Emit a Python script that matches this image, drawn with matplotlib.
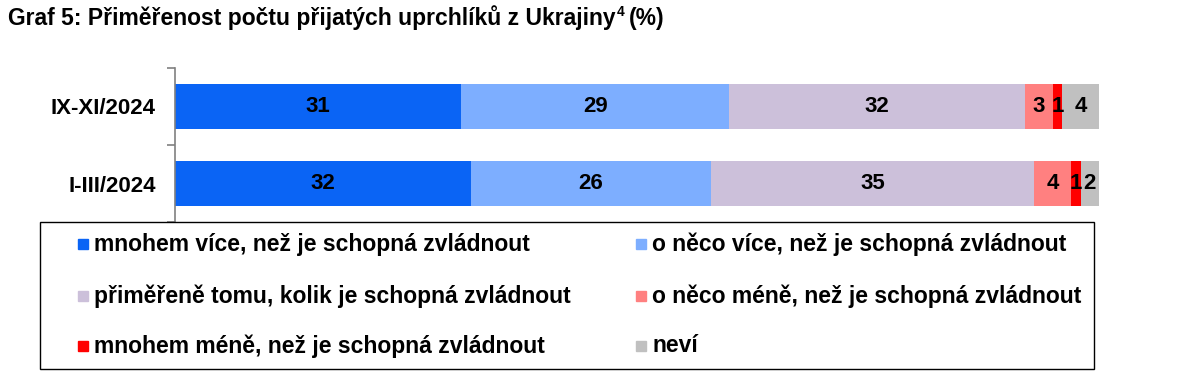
import matplotlib
matplotlib.use('Agg')
import matplotlib.pyplot as plt
from matplotlib.patches import Rectangle
import numpy as np

plt.rcParams['font.family'] = ['Liberation Sans', 'DejaVu Sans']
plt.rcParams['font.weight'] = 'bold'
plt.rcParams['mathtext.fontset'] = 'custom'
plt.rcParams['mathtext.rm'] = 'Liberation Sans:bold'

# data
periods = ['IX-XI/2024', 'I-III/2024']
categories = [
	'mnohem více, než je schopná zvládnout',
	'o něco více, než je schopná zvládnout',
	'přiměřeně tomu, kolik je schopná zvládnout',
	'o něco méně, než je schopná zvládnout',
	'mnohem méně, než je schopná zvládnout',
	'neví',
]
values = np.array([
	[31, 29, 32, 3, 1, 4],
	[32, 26, 35, 4, 1, 2],
])
colors = ['#0A64F5', '#7DAEFF', '#CCC0DA', '#FF8080', '#FF0000', '#C0C0C0']

W, H = 1190, 386
fig = plt.figure(figsize=(W / 100, H / 100), dpi=100)
ax = fig.add_axes([175 / W, 1 - 222 / H, 924 / W, 154 / H])

y = np.arange(len(periods))
left = np.zeros(len(periods))
for i, cat in enumerate(categories):
	v = values[:, i]
	ax.barh(y, v, left=left, height=0.58, color=colors[i], edgecolor='none')
	for yy, l, val in zip(y, left, v):
		ax.text(l + val / 2, yy, str(val), ha='center', va='center', fontsize=16, fontweight='bold')
	left += v

ax.set_xlim(0, 100)
ax.set_ylim(len(periods) - 0.5, -0.5)
ax.set_yticks(y)
ax.set_yticklabels(periods, fontsize=16, fontweight='bold')
ax.set_yticks(np.arange(len(periods) + 1) - 0.5, minor=True)
ax.tick_params(axis='y', which='major', length=0, pad=14)
ax.tick_params(axis='y', which='minor', length=6, color='#808080', width=1.2)
ax.set_xticks([])
for s in ['top', 'right', 'bottom']:
	ax.spines[s].set_visible(False)
ax.spines['left'].set_color('#808080')
ax.spines['left'].set_linewidth(1.2)

# title, footnote mark drawn smaller right after "Ukrajiny"
t = fig.text(8 / W, 1 - 18 / H, 'Graf 5: Přiměřenost počtu přijatých uprchlíků z Ukrajiny',
	fontsize=16.5, fontweight='bold', va='center', ha='left')
fig.canvas.draw()
bb = t.get_window_extent()
sup = fig.text((bb.x1 + 1) / W, 1 - 12 / H, '4', fontsize=10, fontweight='bold', va='center', ha='left')
bb2 = sup.get_window_extent()
fig.text((bb2.x1 + 5) / W, 1 - 18 / H, '(%)', fontsize=16.5, fontweight='bold', va='center', ha='left')

# legend box
fig.patches.append(Rectangle((40 / W, 1 - 369 / H), 1054 / W, 147 / H, transform=fig.transFigure,
	fill=False, edgecolor='black', linewidth=1))
colX = [78, 636]
rowY = [244, 296, 346]
for i, cat in enumerate(categories):
	x0 = colX[i % 2]
	y0 = rowY[i // 2]
	fig.patches.append(Rectangle((x0 / W, 1 - (y0 + 5) / H), 10 / W, 10 / H, transform=fig.transFigure,
		color=colors[i]))
	fig.text((x0 + 16) / W, 1 - y0 / H, cat, fontsize=16.5, fontweight='bold', va='center', ha='left')

fig.savefig('out.png', dpi=100)
